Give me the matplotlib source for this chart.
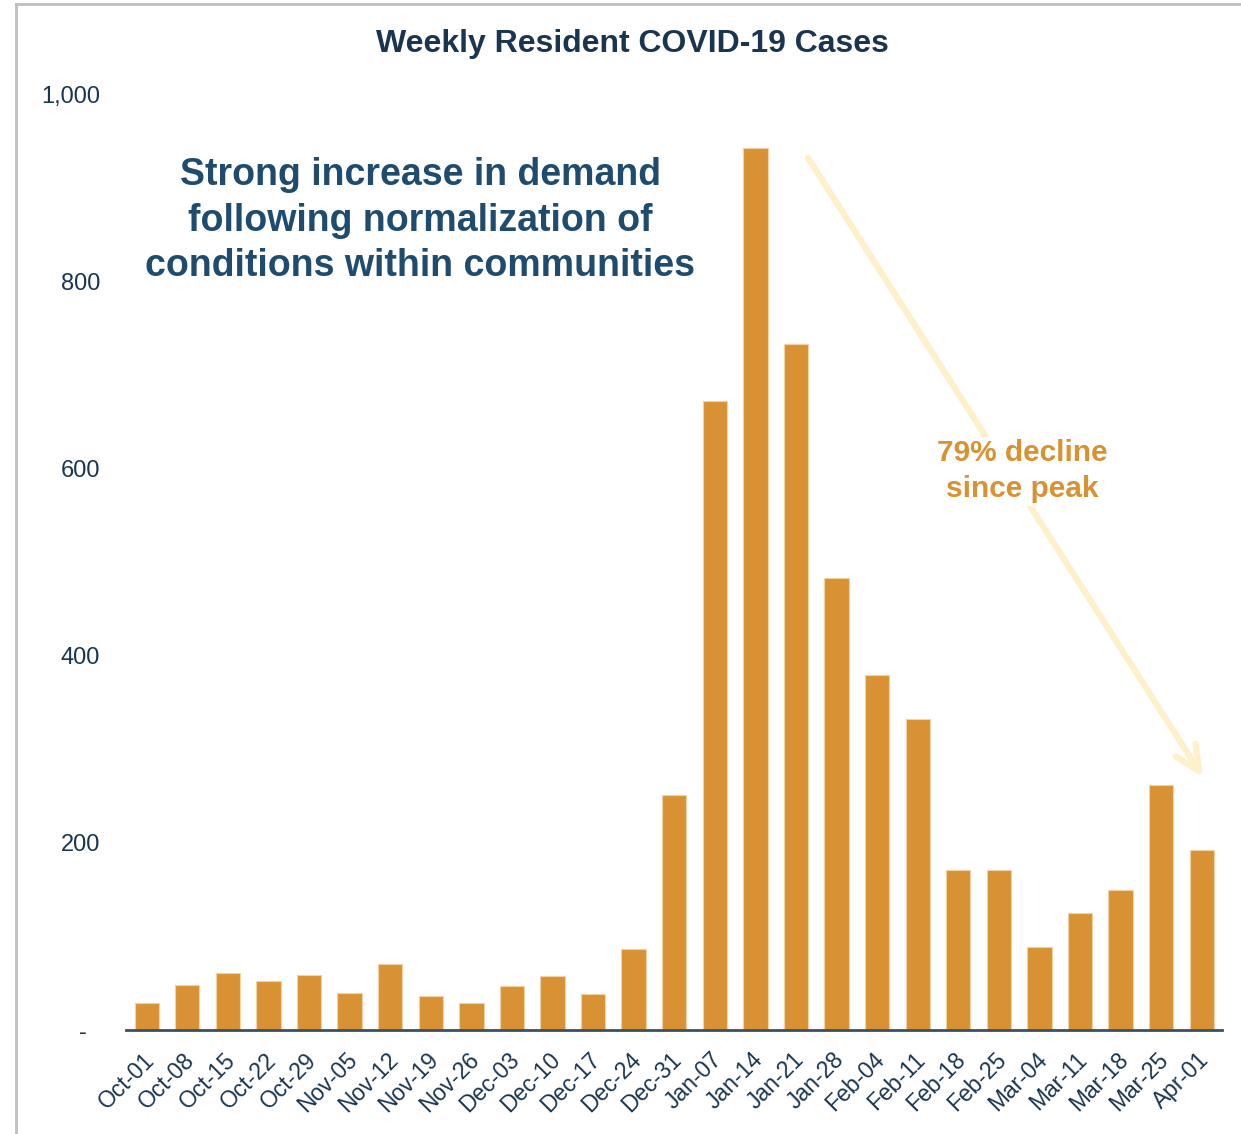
import matplotlib.pyplot as plt
import matplotlib.transforms as mtransforms
from matplotlib.lines import Line2D
from matplotlib.ticker import FuncFormatter

# ── data ──
weeks = ["Oct-01", "Oct-08", "Oct-15", "Oct-22", "Oct-29", "Nov-05", "Nov-12",
         "Nov-19", "Nov-26", "Dec-03", "Dec-10", "Dec-17", "Dec-24", "Dec-31",
         "Jan-07", "Jan-14", "Jan-21", "Jan-28", "Feb-04", "Feb-11", "Feb-18",
         "Feb-25", "Mar-04", "Mar-11", "Mar-18", "Mar-25", "Apr-01"]
cases = [29, 48, 61, 52, 59, 40, 70, 36, 29, 47, 58, 38, 87, 251,
         672, 942, 733, 483, 379, 332, 171, 171, 89, 125, 150, 262, 192]
y_ticks = [0, 200, 400, 600, 800, 1000]

BAR = "#D89233"
NAVY = "#1A3550"
BLUE = "#1F4B6E"

plt.rcParams['font.family'] = ['Liberation Sans', 'DejaVu Sans']

fig = plt.figure(figsize=(12.41, 11.34), dpi=100)
ax = fig.add_axes([0.1019, 0.0917, 0.8828, 0.8254])

x = range(len(weeks))
ax.bar(x, cases, width=0.6, color=BAR, edgecolor="#F2D2A2", linewidth=0.8, zorder=2)

ax.set_xlim(-0.5, len(weeks) - 0.5)
ax.set_ylim(0, 1000)
ax.set_yticks(y_ticks)
# accounting style: zero shown as a dash, padded like the original
ax.yaxis.set_major_formatter(FuncFormatter(lambda v, p: "-  " if v == 0 else f"{v:,.0f}"))
ax.set_xticks(list(x))
ax.set_xticklabels(weeks, rotation=45, ha="right", va="center", rotation_mode="anchor")

ax.tick_params(axis="y", length=0, pad=19, labelsize=17, labelcolor=NAVY)
ax.tick_params(axis="x", length=0, pad=19, labelsize=16.5, labelcolor=NAVY)

# nudge x labels a few pixels right, like the original
shift = mtransforms.ScaledTranslation(4 / 100, 0, fig.dpi_scale_trans)
for lbl in ax.get_xticklabels():
    lbl.set_transform(lbl.get_transform() + shift)

for s in ["top", "right", "left"]:
    ax.spines[s].set_visible(False)
ax.spines["bottom"].set_color("#3B4F63")
ax.spines["bottom"].set_linewidth(2)
ax.spines["bottom"].set_zorder(3)

fig.text(0.51, 0.961, "Weekly Resident COVID-19 Cases", ha="center", va="center",
         fontsize=23, fontweight="bold", color=NAVY)

ax.text(0.268, 0.933, "Strong increase in demand\nfollowing normalization of\nconditions within communities",
        transform=ax.transAxes, ha="center", va="top", fontsize=27,
        fontweight="bold", color=BLUE, linespacing=1.35)

# decline arrow from peak area down to latest week
ax.annotate("", xy=(0.9827, 0.270), xytext=(0.622, 0.932), xycoords="axes fraction",
            arrowprops=dict(arrowstyle="->,head_length=1.8,head_width=0.85",
                            color="#FFF0CC", lw=4.5, shrinkA=0, shrinkB=0), zorder=1)
ax.text(0.8174, 0.597, "79% decline\nsince peak", transform=ax.transAxes,
        ha="center", va="center", fontsize=21.5, fontweight="bold", color=BAR,
        linespacing=1.36, zorder=4,
        bbox=dict(facecolor="white", edgecolor="none", pad=2))

# grey frame on top and left of the slide panel
fig.add_artist(Line2D([0.013, 0.013], [0.0, 0.9965], transform=fig.transFigure,
                      color="#BFBFBF", lw=2))
fig.add_artist(Line2D([0.013, 1.0], [0.9965, 0.9965], transform=fig.transFigure,
                      color="#BFBFBF", lw=2))

plt.savefig("out.png", dpi=100)
plt.close()
